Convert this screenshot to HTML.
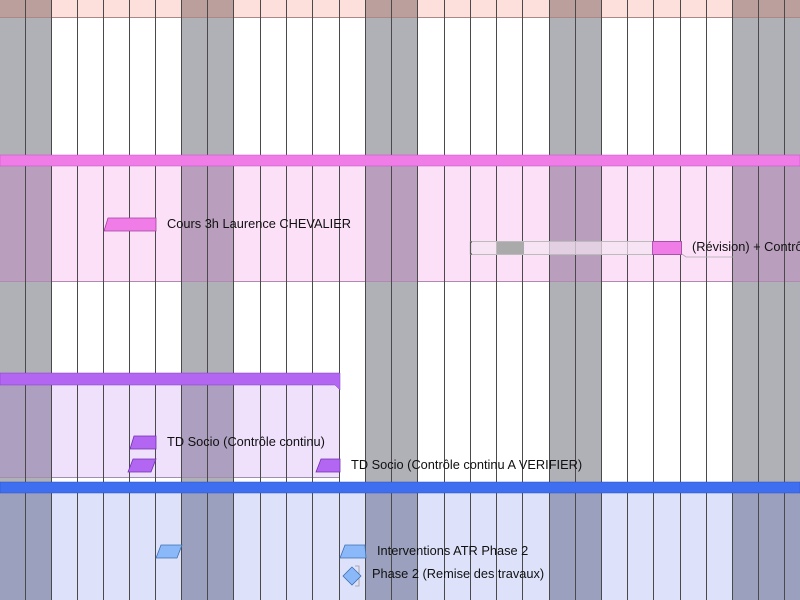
<!DOCTYPE html>
<html><head><meta charset="utf-8"><style>
html,body{margin:0;padding:0;width:800px;height:600px;overflow:hidden;background:#fff}
svg{display:block}
text{font-family:"Liberation Sans",sans-serif;font-size:12.8px;fill:#111}
</style></head><body>
<svg width="800" height="600" viewBox="0 0 800 600" xmlns="http://www.w3.org/2000/svg">
<rect x="0" y="0" width="800" height="600" fill="#fff"/>
<rect x="0" y="0" width="800" height="17" fill="#fde0dc"/>
<rect x="0" y="166" width="800" height="115" fill="#fbe0f8"/>
<rect x="0" y="385" width="340" height="92" fill="#efe0fb"/>
<rect x="0" y="493" width="800" height="107" fill="#dde2fa"/>
<g>
<rect x="0" y="17" width="51" height="138" fill="#b0b1b6"/>
<rect x="181" y="17" width="53" height="138" fill="#b0b1b6"/>
<rect x="365" y="17" width="53" height="138" fill="#b0b1b6"/>
<rect x="549" y="17" width="52" height="138" fill="#b0b1b6"/>
<rect x="732" y="17" width="68" height="138" fill="#b0b1b6"/>

<rect x="0" y="0" width="51" height="17" fill="#bb9f9d"/>
<rect x="181" y="0" width="53" height="17" fill="#bb9f9d"/>
<rect x="365" y="0" width="53" height="17" fill="#bb9f9d"/>
<rect x="549" y="0" width="52" height="17" fill="#bb9f9d"/>
<rect x="732" y="0" width="68" height="17" fill="#bb9f9d"/>

<rect x="0" y="166" width="51" height="115" fill="#b99fbd"/>
<rect x="181" y="166" width="53" height="115" fill="#b99fbd"/>
<rect x="365" y="166" width="53" height="115" fill="#b99fbd"/>
<rect x="549" y="166" width="52" height="115" fill="#b99fbd"/>
<rect x="732" y="166" width="68" height="115" fill="#b99fbd"/>

<rect x="0" y="281" width="51" height="201" fill="#b0b1b6"/>
<rect x="181" y="281" width="53" height="201" fill="#b0b1b6"/>
<rect x="365" y="281" width="53" height="201" fill="#b0b1b6"/>
<rect x="549" y="281" width="52" height="201" fill="#b0b1b6"/>
<rect x="732" y="281" width="68" height="201" fill="#b0b1b6"/>

<rect x="0" y="385" width="51" height="92" fill="#ad9fc0"/>
<rect x="181" y="385" width="53" height="92" fill="#ad9fc0"/>

<rect x="0" y="493" width="51" height="107" fill="#9aa0be"/>
<rect x="181" y="493" width="53" height="107" fill="#9aa0be"/>
<rect x="365" y="493" width="53" height="107" fill="#9aa0be"/>
<rect x="549" y="493" width="52" height="107" fill="#9aa0be"/>
<rect x="732" y="493" width="68" height="107" fill="#9aa0be"/>
</g>
<line x1="0" y1="17.5" x2="800" y2="17.5" stroke="#a88" stroke-width="1"/>
<line x1="0" y1="281.5" x2="800" y2="281.5" stroke="#b08ab0" stroke-width="1"/>
<line x1="0" y1="477.5" x2="340" y2="477.5" stroke="#a090b0" stroke-width="1"/>
<g stroke="#4a4a4a" stroke-width="1">
<line x1="25.5" y1="0" x2="25.5" y2="600"/><line x1="51.5" y1="0" x2="51.5" y2="600"/>
<line x1="77.5" y1="0" x2="77.5" y2="600"/><line x1="103.5" y1="0" x2="103.5" y2="600"/>
<line x1="129.5" y1="0" x2="129.5" y2="600"/><line x1="155.5" y1="0" x2="155.5" y2="600"/>
<line x1="181.5" y1="0" x2="181.5" y2="600"/><line x1="207.5" y1="0" x2="207.5" y2="600"/>
<line x1="233.5" y1="0" x2="233.5" y2="600"/><line x1="260.5" y1="0" x2="260.5" y2="600"/>
<line x1="286.5" y1="0" x2="286.5" y2="600"/><line x1="312.5" y1="0" x2="312.5" y2="600"/>
<line x1="339.5" y1="0" x2="339.5" y2="600"/><line x1="365.5" y1="0" x2="365.5" y2="600"/>
<line x1="391.5" y1="0" x2="391.5" y2="600"/><line x1="417.5" y1="0" x2="417.5" y2="600"/>
<line x1="444.5" y1="0" x2="444.5" y2="600"/><line x1="470.5" y1="0" x2="470.5" y2="600"/>
<line x1="496.5" y1="0" x2="496.5" y2="600"/><line x1="522.5" y1="0" x2="522.5" y2="600"/>
<line x1="549.5" y1="0" x2="549.5" y2="600"/><line x1="575.5" y1="0" x2="575.5" y2="600"/>
<line x1="601.5" y1="0" x2="601.5" y2="600"/><line x1="627.5" y1="0" x2="627.5" y2="600"/>
<line x1="653.5" y1="0" x2="653.5" y2="600"/><line x1="680.5" y1="0" x2="680.5" y2="600"/>
<line x1="706.5" y1="0" x2="706.5" y2="600"/><line x1="732.5" y1="0" x2="732.5" y2="600"/>
<line x1="758.5" y1="0" x2="758.5" y2="600"/><line x1="784.5" y1="0" x2="784.5" y2="600"/>
</g>
<rect x="0" y="155" width="800" height="11" fill="#f07ce8" stroke="#c050c0" stroke-width="0.5"/>
<polygon points="0,373 340,373 340,390 335,385 0,385" fill="#b366f2" stroke="#8040c0" stroke-width="0.5"/>
<rect x="0" y="482" width="800" height="11" fill="#3f6ff0" stroke="#2a50c0" stroke-width="0.5"/>

<polygon points="104,231 108,218 156,218 156,231" fill="#f07ce8" stroke="#a040a0" stroke-width="0.8"/>
<text x="167" y="228">Cours 3h Laurence CHEVALIER</text>
<rect x="470.5" y="241.5" width="211" height="13" fill="#f3e6f2" fill-opacity="0.7" stroke="#bbb" stroke-width="1"/>
<rect x="497" y="242" width="27" height="12" fill="#aaaaaa"/>
<path d="M472,242 L470.5,242 L470.5,254 L472,254" fill="none" stroke="#555" stroke-width="1.2"/>
<rect x="652.5" y="241.5" width="29" height="13" fill="#f07ce8" stroke="#a040a0" stroke-width="0.8"/>
<path d="M682,254 L686,257 L735,257" fill="none" stroke="#aaa" stroke-width="0.8"/>
<text x="692" y="251">(Révision) + Contrôle</text>

<polygon points="130,449 134,436 156,436 156,449" fill="#b366f2" stroke="#7030b0" stroke-width="0.8"/>
<text x="167" y="446">TD Socio (Contrôle continu)</text>
<polygon points="128,472 133,459 156,459 151,472" fill="#b366f2" stroke="#7030b0" stroke-width="0.8"/>
<polygon points="316,472 321,459 340,459 340,472" fill="#b366f2" stroke="#7030b0" stroke-width="0.8"/>
<text x="351" y="469">TD Socio (Contrôle continu A VERIFIER)</text>

<polygon points="156,558 161,545 182,545 177,558" fill="#8ab8f8" stroke="#4070b0" stroke-width="0.8"/>
<polygon points="340,558 345,545 365,545 366,558" fill="#8ab8f8" stroke="#4070b0" stroke-width="0.8"/>
<text x="377" y="555">Interventions ATR Phase 2</text>
<path d="M355,566 L359,566 L359,586 L355,586" fill="none" stroke="#999" stroke-width="0.8"/>
<polygon points="352,567 361,576 352,585 343,576" fill="#8ab8f8" stroke="#4070b0" stroke-width="0.8"/>
<text x="372" y="578">Phase 2 (Remise des travaux)</text>
</svg>
</body></html>
